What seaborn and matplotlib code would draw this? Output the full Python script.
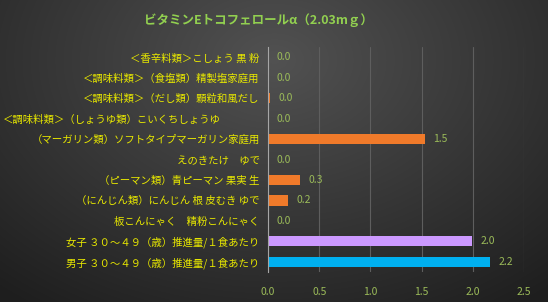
import numpy as np
import pandas as pd
import matplotlib
matplotlib.use("Agg")
import matplotlib.pyplot as plt
import matplotlib.transforms as mtransforms
import seaborn as sns

title = "ビタミンEトコフェロールα（2.03mｇ）"
categories = [
    "＜香辛料類＞こしょう 黒 粉",
    "＜調味料類＞（食塩類）精製塩家庭用",
    "＜調味料類＞（だし類）顆粒和風だし",
    "＜調味料類＞（しょうゆ類）こいくちしょうゆ",
    "（マーガリン類）ソフトタイプマーガリン家庭用",
    "えのきたけ　ゆで",
    "（ピーマン類）青ピーマン 果実 生",
    "（にんじん類）にんじん 根 皮むき ゆで",
    "板こんにゃく　精粉こんにゃく",
    "女子 ３０～４９（歳）推進量/１食あたり",
    "男子 ３０～４９（歳）推進量/１食あたり",
]
values = [0.0, 0.0, 0.02, 0.0, 1.53, 0.0, 0.31, 0.2, 0.0, 1.99, 2.17]
groups = ["food"] * 9 + ["female", "male"]
palette = {"food": "#F07A2A", "female": "#CC99FF", "male": "#00B0F0"}
xticks = [0.0, 0.5, 1.0, 1.5, 2.0, 2.5]

sns.set_theme(style="dark")
plt.rcParams["font.family"] = ["Noto Sans CJK JP", "DejaVu Sans"]

fig = plt.figure(figsize=(5.48, 3.02), dpi=100)

# background radial gradient
bg = fig.add_axes([0, 0, 1, 1], zorder=-10)
yy, xx = np.mgrid[0:302, 0:548]
d = np.sqrt(((xx - 274) / 420.0) ** 2 + ((yy - 60) / 300.0) ** 2)
g = np.clip(0.32 - 0.20 * d, 0.12, 0.34)
bg.imshow(np.dstack([g, g, g]), aspect="auto", extent=[0, 1, 0, 1])
bg.axis("off")

ax = fig.add_axes([268 / 548, 1 - 272 / 302, (524 - 268) / 548, (272 - 47) / 302])
ax.patch.set_alpha(0)

df = pd.DataFrame({"cat": categories, "val": values, "grp": groups})
sns.barplot(data=df, y="cat", x="val", hue="grp", palette=palette, dodge=False,
            width=0.5, ax=ax, legend=False, orient="h", saturation=1, linewidth=0)

for cont in ax.containers:
    ax.bar_label(cont, fmt="%.1f", padding=6, color="#9BBB59", fontsize=7.5)

ax.set_xlim(0, 2.5)
ax.set_ylim(10.5, -0.5)
ax.set_xticks(xticks)
ax.set_xticklabels([f"{t:.1f}" for t in xticks], color="#9BBB59", fontsize=7.5)
ax.tick_params(axis="x", pad=11, length=0)
ax.tick_params(axis="y", pad=6, length=0, labelsize=7.5, labelcolor="#E8E800")
ax.set_xlabel("")
ax.set_ylabel("")
ax.grid(axis="x", color="#5E5E5E", linewidth=0.8)
ax.grid(axis="y", visible=False)
for s in ["top", "right", "bottom"]:
    ax.spines[s].set_visible(False)
ax.spines["left"].set_color("#A6A6A6")
ax.spines["left"].set_linewidth(0.8)

# long label overflows to the left edge
lbl = ax.get_yticklabels()[3]
lbl.set_horizontalalignment("left")
lbl.set_transform(mtransforms.blended_transform_factory(fig.transFigure, ax.transData))
lbl.set_x(3 / 548)

fig.text(258 / 548, 1 - 20 / 302, title, ha="center", va="center",
         color="#92D050", fontsize=9, fontweight="bold")

fig.savefig("out.png", dpi=100)
